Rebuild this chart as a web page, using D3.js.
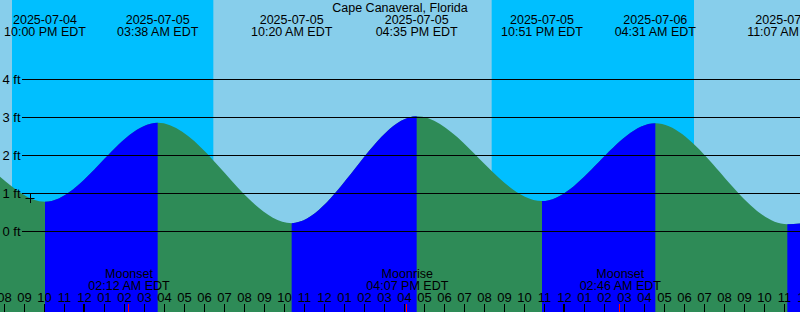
<!DOCTYPE html>
<html><head><meta charset="utf-8">
<script src="https://cdn.jsdelivr.net/npm/d3@7"></script>
<style>html,body{margin:0;padding:0;overflow:hidden;background:#87CEEB}svg{display:block}</style>
</head><body>
<svg id="c" width="800" height="312"></svg>
<script>
const title = "Cape Canaveral, Florida";
const viewStart = "2025-07-04 19:45";
const viewEnd = "2025-07-06 11:45";
// tide extremes (EDT)
const extremeTimes = ["2025-07-04 22:00","2025-07-05 03:38","2025-07-05 10:20","2025-07-05 16:35","2025-07-05 22:51","2025-07-06 04:31","2025-07-06 11:07"];
const extremeHeights = [0.78, 2.86, 0.22, 3.03, 0.80, 2.85, 0.19];
const extremeTypes = ["Low","High","Low","High","Low","High","Low"];
// curve values read at the left and right edges
const edgeTimes = ["2025-07-04 19:45","2025-07-06 11:45"];
const edgeHeights = [1.44, 0.21];
// night (sunset -> sunrise)
const nightStarts = ["2025-07-04 20:21","2025-07-05 20:20"];
const nightEnds = ["2025-07-05 06:25","2025-07-06 06:27"];
// moon events
const moonTimes = ["2025-07-05 02:12","2025-07-05 16:07","2025-07-06 02:46"];
const moonLabels = ["Moonset","Moonrise","Moonset"];
// current time marker
const nowTime = "2025-07-04 21:15";
const nowHeight = 0.88;
const yTicks = [0,1,2,3,4];

const W = 800, H = 312;
const parse = d3.utcParse("%Y-%m-%d %H:%M");
const fDate = d3.utcFormat("%Y-%m-%d");
const fTime = d3.utcFormat("%I:%M %p EDT");
const fHour = d3.utcFormat("%I");

const x = d3.scaleUtc().domain([parse(viewStart), parse(viewEnd)]).range([0, W]);
const y = d3.scaleLinear().domain([0,4]).range([231.5, 79.5]);

const svg = d3.select("#c");
const FONT = "'Liberation Sans', Arial, Helvetica, sans-serif";

// sky: day background + night bands
svg.append("rect").attr("x",0).attr("y",0).attr("width",W).attr("height",H).attr("fill","#87CEEB");
svg.selectAll("rect.night").data(nightStarts.map((s,i)=>({s:parse(s),e:parse(nightEnds[i])})))
  .enter().append("rect").attr("class","night")
  .attr("x",d=>x(d.s)).attr("y",0).attr("width",d=>x(d.e)-x(d.s)).attr("height",H)
  .attr("fill","#00BFFF");

// tide curve
const pts = [];
pts.push({t:parse(edgeTimes[0]), h:edgeHeights[0]});
extremeTimes.forEach((t,i)=>pts.push({t:parse(t), h:extremeHeights[i]}));
pts.push({t:parse(edgeTimes[1]), h:edgeHeights[1]});

const area = d3.area().x(d=>x(d.t)).y0(H).y1(d=>y(d.h)).curve(d3.curveMonotoneX);

svg.append("path").datum(pts).attr("d",area).attr("fill","#2E8B57");

// rising intervals (low -> high) in blue
const defs = svg.append("defs");
const clip = defs.append("clipPath").attr("id","rise");
extremeTimes.forEach((t,i)=>{
  if (extremeTypes[i] === "Low") {
    const x0 = x(parse(t));
    const x1 = i+1 < extremeTimes.length ? x(parse(extremeTimes[i+1])) : W;
    clip.append("rect").attr("x",x0).attr("y",0).attr("width",x1-x0).attr("height",H);
  }
});
svg.append("path").datum(pts).attr("d",area).attr("fill","#0000FF").attr("clip-path","url(#rise)");

// grid lines
svg.selectAll("line.grid").data(yTicks).enter().append("line")
  .attr("x1",22).attr("x2",W).attr("y1",d=>y(d)).attr("y2",d=>y(d))
  .attr("stroke","#000").attr("stroke-width",1);
svg.selectAll("text.ylab").data(yTicks).enter().append("text")
  .attr("x",2.5).attr("y",d=>y(d)+4.5)
  .attr("font-family",FONT).attr("font-size","13px").attr("fill","#000")
  .text(d=>d+" ft");

// title
svg.append("text").attr("x",W/2).attr("y",11.5).attr("text-anchor","middle")
  .attr("font-family",FONT).attr("font-size","12.5px").attr("fill","#000").text(title);

// extreme labels at top
const extG = svg.selectAll("g.ext").data(extremeTimes.map(parse)).enter().append("g");
extG.append("text").attr("x",d=>x(d)).attr("y",24).attr("text-anchor","middle")
  .attr("font-family",FONT).attr("font-size","12.5px").attr("fill","#000").text(d=>fDate(d));
extG.append("text").attr("x",d=>x(d)).attr("y",36).attr("text-anchor","middle")
  .attr("font-family",FONT).attr("font-size","12.5px").attr("fill","#000").text(d=>fTime(d));

// moon labels
const mg = svg.selectAll("g.moon").data(moonTimes.map((t,i)=>({t:parse(t),l:moonLabels[i]}))).enter().append("g");
mg.append("text").attr("x",d=>x(d.t)).attr("y",278).attr("text-anchor","middle")
  .attr("font-family",FONT).attr("font-size","12.5px").attr("fill","#000").text(d=>d.l);
mg.append("text").attr("x",d=>x(d.t)).attr("y",290).attr("text-anchor","middle")
  .attr("font-family",FONT).attr("font-size","12.5px").attr("fill","#000").text(d=>fTime(d.t));

// hour axis
const hours = d3.utcHour.range(d3.utcHour.ceil(x.domain()[0]), d3.utcHour.offset(x.domain()[1],1));
svg.selectAll("text.hr").data(hours).enter().append("text")
  .attr("x",d=>x(d)-0.5).attr("y",302).attr("text-anchor","middle")
  .attr("font-family",FONT).attr("font-size","13px").attr("fill","#000").text(d=>fHour(d));
svg.selectAll("line.tick").data(hours).enter().append("line")
  .attr("x1",d=>d.getUTCHours()===0 ? x(d)-1 : x(d)-0.5)
  .attr("x2",d=>d.getUTCHours()===0 ? x(d)-1 : x(d)-0.5)
  .attr("y1",304).attr("y2",H)
  .attr("stroke","#000").attr("stroke-width",d=>d.getUTCHours()===0 ? 2 : 1);
svg.selectAll("line.moon").data(moonTimes.map(parse)).enter().append("line")
  .attr("x1",d=>Math.round(x(d))-0.5).attr("x2",d=>Math.round(x(d))-0.5)
  .attr("y1",304).attr("y2",H).attr("stroke","#FF0000").attr("stroke-width",1);

// current time marker
const nx = x(parse(nowTime)), ny = y(nowHeight);
svg.append("line").attr("x1",nx-4.5).attr("x2",nx+4.5).attr("y1",Math.round(ny)+0.5).attr("y2",Math.round(ny)+0.5).attr("stroke","#000");
svg.append("line").attr("x1",Math.round(nx)+0.5).attr("x2",Math.round(nx)+0.5).attr("y1",ny-5).attr("y2",ny+5).attr("stroke","#000");
</script>
</body></html>
